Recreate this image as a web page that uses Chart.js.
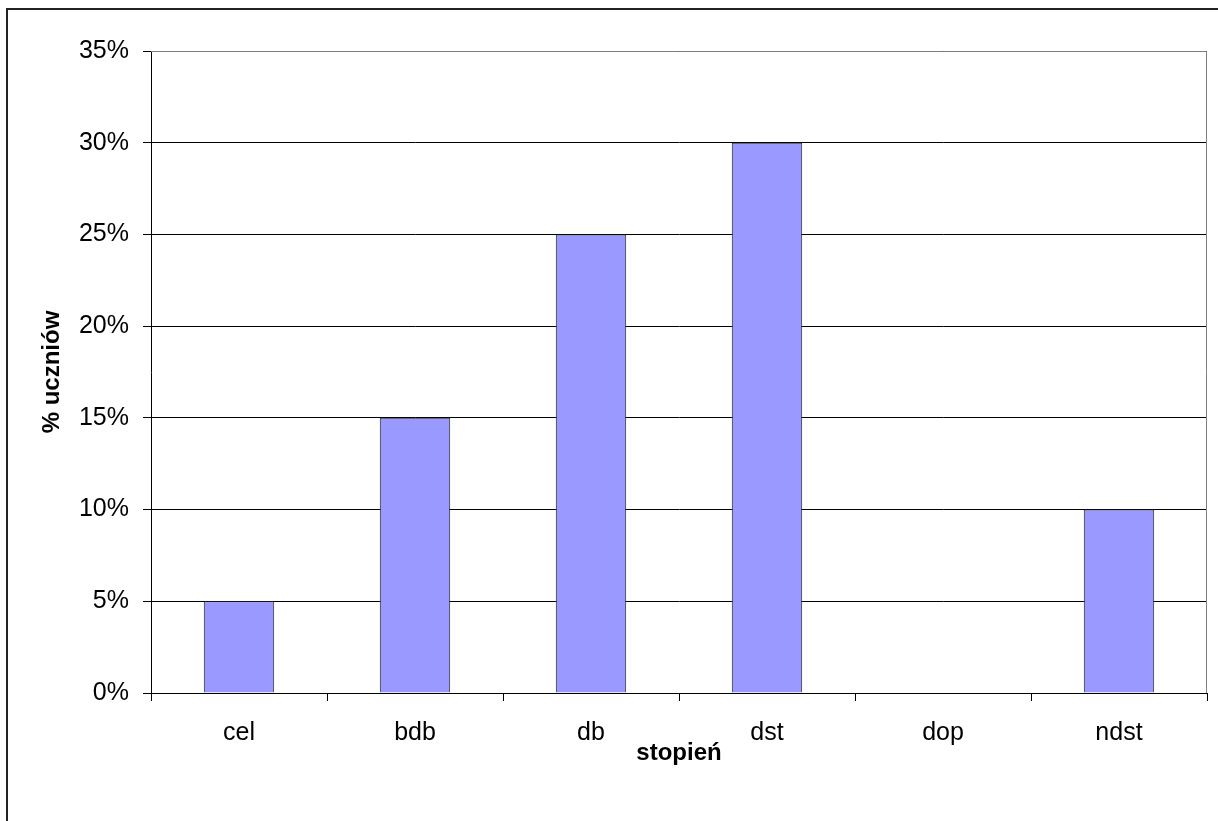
<!DOCTYPE html>
<html>
<head>
<meta charset="utf-8">
<script src="https://cdn.jsdelivr.net/npm/chart.js@4/dist/chart.umd.min.js"></script>
<style>
  html, body { margin: 0; padding: 0; background: #fff; }
  #wrap { width: 1218px; height: 821px; position: relative; }
</style>
</head>
<body>
<div id="wrap"><canvas id="gradesChart"></canvas></div>
<script>
// grades and share of students
const grades = ['cel', 'bdb', 'db', 'dst', 'dop', 'ndst'];
const studentShare = [5, 15, 25, 30, 0, 10];
const yTicks = [0, 5, 10, 15, 20, 25, 30, 35];

// outer frame and the grey right/top edge of the plot area
const framePlugin = {
  id: 'frame',
  afterDraw(chart) {
    const ctx = chart.ctx;
    const area = chart.chartArea;
    ctx.save();
    ctx.strokeStyle = '#222';
    ctx.lineWidth = 2;
    ctx.beginPath();
    ctx.moveTo(7, 821);
    ctx.lineTo(7, 9);
    ctx.lineTo(1218, 9);
    ctx.stroke();
    ctx.strokeStyle = '#808080';
    ctx.lineWidth = 1;
    ctx.beginPath();
    ctx.moveTo(area.left, area.top + 0.5);
    ctx.lineTo(area.right - 0.5, area.top + 0.5);
    ctx.lineTo(area.right - 0.5, area.bottom);
    ctx.stroke();
    ctx.restore();
  }
};

Chart.defaults.font.family = '"Liberation Sans", Arial, sans-serif';
Chart.defaults.color = '#000';

new Chart(document.getElementById('gradesChart'), {
  type: 'bar',
  data: {
    labels: grades,
    datasets: [{
      data: studentShare,
      backgroundColor: '#9999FF',
      borderColor: '#222',
      borderWidth: 1,
      borderSkipped: 'bottom',
      categoryPercentage: 1,
      barPercentage: 0.4
    }]
  },
  options: {
    responsive: true,
    maintainAspectRatio: false,
    animation: false,
    layout: { padding: { left: 0, top: 51, right: 11, bottom: 0 } },
    plugins: {
      legend: { display: false },
      tooltip: { enabled: false }
    },
    scales: {
      x: {
        grid: {
          offset: true,
          drawOnChartArea: false,
          drawTicks: true,
          tickLength: 8,
          tickColor: '#000'
        },
        border: { color: '#000', width: 1 },
        ticks: { font: { size: 25 }, padding: 17 },
        title: {
          display: true,
          text: 'stopień',
          font: { size: 24, weight: 'bold' },
          padding: { top: 0, bottom: 53 }
        },
        afterFit(scale) { scale.height = 128; }
      },
      y: {
        min: 0,
        max: 35,
        afterBuildTicks(scale) { scale.ticks = yTicks.map(v => ({ value: v })); },
        grid: {
          color: '#000',
          lineWidth: 1,
          tickLength: 8,
          tickColor: '#000'
        },
        border: { color: '#000', width: 1 },
        ticks: {
          font: { size: 25 },
          padding: 14,
          callback: v => v + '%'
        },
        title: {
          display: true,
          text: '% uczniów',
          font: { size: 24, weight: 'bold' },
          padding: { top: 38, bottom: 0 }
        },
        afterFit(scale) { scale.width = 151; }
      }
    }
  },
  plugins: [framePlugin]
});
</script>
</body>
</html>
